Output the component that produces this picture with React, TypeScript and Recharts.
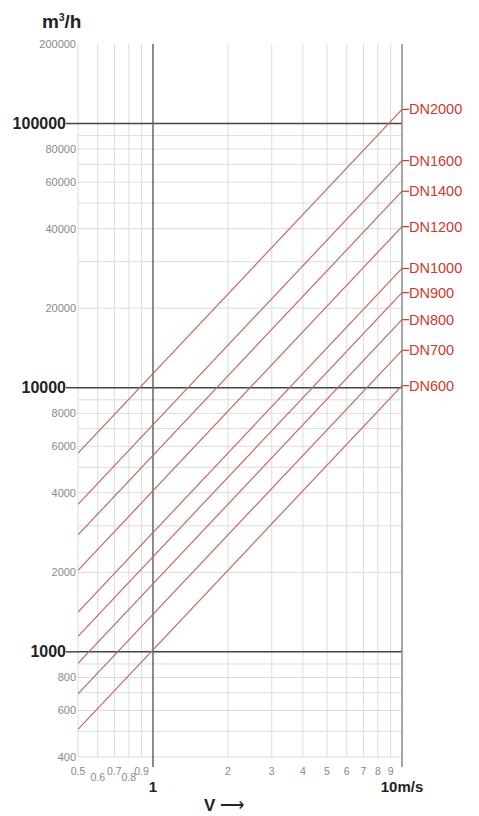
import React from 'react';
import { LineChart, Line, XAxis, YAxis, ReferenceLine } from 'recharts';

// velocity range (m/s) and flow at each end for every pipe size (m³/h)
const velocity = [0.5, 10];
const dnNames = ['DN600', 'DN700', 'DN800', 'DN900', 'DN1000', 'DN1200', 'DN1400', 'DN1600', 'DN2000'];
const flowAtLow = [509, 693, 905, 1145, 1414, 2036, 2771, 3619, 5655];
const flowAtHigh = [10179, 13854, 18096, 22902, 28274, 40715, 55418, 72382, 113097];

const xTicks = [0.5, 0.6, 0.7, 0.8, 0.9, 1, 2, 3, 4, 5, 6, 7, 8, 9, 10];
const xLabels = ['0.5', '0.6', '0.7', '0.8', '0.9', '1', '2', '3', '4', '5', '6', '7', '8', '9', '10m/s'];
const yTicks = [400, 600, 800, 1000, 2000, 4000, 6000, 8000, 10000, 20000, 40000, 60000, 80000, 100000, 200000];
const yGrid = [
  400, 500, 600, 700, 800, 900,
  2000, 3000, 4000, 5000, 6000, 7000, 8000, 9000,
  20000, 30000, 40000, 50000, 60000, 70000, 80000, 90000,
];
const yMajor = [1000, 10000, 100000];

const data = velocity.map((v, i) => {
  const row: Record<string, number> = { v };
  dnNames.forEach((n, j) => {
    row[n] = i === 0 ? flowAtLow[j] : flowAtHigh[j];
  });
  return row;
});

const FONT = '"Liberation Sans", Arial, sans-serif';
const RED = '#d2392b';
const LINE = '#c26a60';

const XTick = (props: any) => {
  const { x, y, payload } = props;
  const idx = xTicks.indexOf(payload.value);
  const label = xLabels[idx];
  const major = payload.value === 1 || payload.value === 10;
  if (major) {
    return (
      <g>
        <line x1={x} x2={x} y1={y} y2={y + 10} stroke={payload.value === 1 ? '#666' : '#888'} strokeWidth={1.5} />
        <text x={x} y={y + 35} textAnchor="middle" fontFamily={FONT} fontWeight="bold" fontSize={15} fill="#222">
          {label}
        </text>
      </g>
    );
  }
  const low = payload.value === 0.6 || payload.value === 0.8;
  return (
    <text x={x} y={y + (low ? 24 : 18)} textAnchor="middle" fontFamily={FONT} fontSize={10.5} fill="#888">
      {label}
    </text>
  );
};

const YTick = (props: any) => {
  const { x, y, payload } = props;
  if (yMajor.includes(payload.value)) {
    return (
      <g>
        <line x1={x - 12} x2={x} y1={y} y2={y} stroke="#444" strokeWidth={1.5} />
        <text x={x - 12} y={y} dy={5.5} textAnchor="end" fontFamily={FONT} fontWeight="bold" fontSize={16} fill="#222">
          {payload.value}
        </text>
      </g>
    );
  }
  return (
    <text x={x - 2} y={y} dy={4} textAnchor="end" fontFamily={FONT} fontSize={11} fill="#888">
      {payload.value}
    </text>
  );
};

const endLabel = (name: string) => (p: any) => {
  if (p.index !== 1) return <g />;
  return (
    <g>
      <line x1={p.x} x2={p.x + 7} y1={p.y} y2={p.y} stroke={RED} strokeWidth={1.2} />
      <text x={p.x + 7} y={p.y} dy={5} fontFamily={FONT} fontSize={14.5} fill={RED}>
        {name}
      </text>
    </g>
  );
};

export default function App() {
  return (
    <div style={{ position: 'relative', width: 479, height: 816, background: '#fff' }}>
      <style>{'body{margin:0}'}</style>
      <div
        style={{
          position: 'absolute',
          left: 42,
          top: 11,
          fontFamily: FONT,
          fontWeight: 'bold',
          fontSize: 19,
          color: '#222',
        }}
      >
        m<sup style={{ fontSize: 10 }}>3</sup>/h
      </div>
      <LineChart width={479} height={816} data={data} margin={{ top: 44, right: 77, bottom: 0, left: 0 }}>
        <XAxis
          dataKey="v"
          type="number"
          scale="log"
          domain={[0.5, 10]}
          ticks={xTicks}
          interval={0}
          height={59}
          tickSize={0}
          tickMargin={0}
          axisLine={false}
          tick={<XTick />}
          allowDataOverflow
        />
        <YAxis
          type="number"
          scale="log"
          domain={[400, 200000]}
          ticks={yTicks}
          interval={0}
          width={78}
          tickSize={0}
          tickMargin={0}
          axisLine={false}
          tick={<YTick />}
          allowDataOverflow
        />
        {yGrid.map((g) => (
          <ReferenceLine key={'h' + g} y={g} stroke="#dcdcdc" strokeWidth={1} />
        ))}
        {xTicks
          .filter((t) => t !== 1 && t !== 10)
          .map((t) => (
            <ReferenceLine key={'v' + t} x={t} stroke="#dcdcdc" strokeWidth={1} />
          ))}
        {yMajor.map((g) => (
          <ReferenceLine key={'m' + g} y={g} stroke="#444" strokeWidth={1.5} />
        ))}
        <ReferenceLine x={1} stroke="#666" strokeWidth={1.5} />
        <ReferenceLine x={10} stroke="#888" strokeWidth={1.5} />
        {dnNames.map((n) => (
          <Line
            key={n}
            dataKey={n}
            type="linear"
            stroke={LINE}
            strokeWidth={1.2}
            dot={false}
            isAnimationActive={false}
            label={endLabel(n)}
          />
        ))}
      </LineChart>
      <div
        style={{
          position: 'absolute',
          left: 204,
          top: 795,
          fontFamily: FONT,
          fontWeight: 'bold',
          fontSize: 17,
          color: '#222',
          whiteSpace: 'nowrap',
        }}
      >
        V <span style={{ fontWeight: 'normal', fontSize: 17 }}>⟶</span>
      </div>
    </div>
  );
}
